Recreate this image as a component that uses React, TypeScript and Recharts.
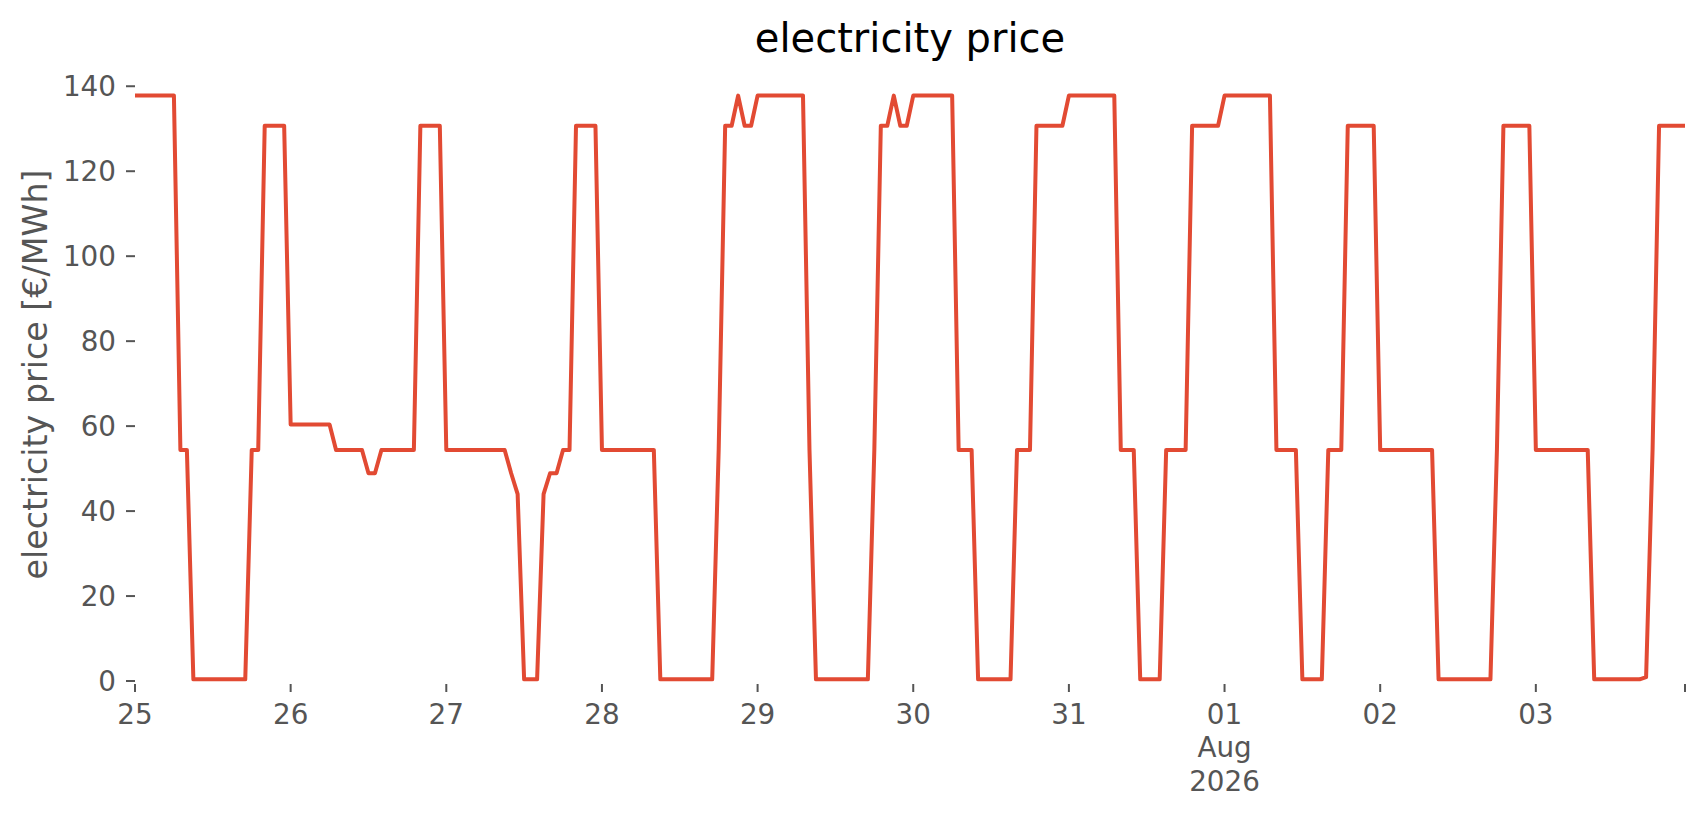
import React from "react";
import { LineChart, Line, XAxis, YAxis } from "recharts";

// hourly electricity price [€/MWh], one array per day (00:00 … 23:00)
const jul25 = [137.8, 137.8, 137.8, 137.8, 137.8, 137.8, 137.8, 54.4, 54.4, 0.4, 0.4, 0.4, 0.4, 0.4, 0.4, 0.4, 0.4, 0.4, 54.4, 54.4, 130.7, 130.7, 130.7, 130.7];
const jul26 = [60.4, 60.4, 60.4, 60.4, 60.4, 60.4, 60.4, 54.4, 54.4, 54.4, 54.4, 54.4, 48.9, 48.9, 54.4, 54.4, 54.4, 54.4, 54.4, 54.4, 130.7, 130.7, 130.7, 130.7];
const jul27 = [54.4, 54.4, 54.4, 54.4, 54.4, 54.4, 54.4, 54.4, 54.4, 54.4, 48.9, 44.0, 0.4, 0.4, 0.4, 44.0, 48.9, 48.9, 54.4, 54.4, 130.7, 130.7, 130.7, 130.7];
const jul28 = [54.4, 54.4, 54.4, 54.4, 54.4, 54.4, 54.4, 54.4, 54.4, 0.4, 0.4, 0.4, 0.4, 0.4, 0.4, 0.4, 0.4, 0.4, 54.4, 130.7, 130.7, 137.8, 130.7, 130.7];
const jul29 = [137.8, 137.8, 137.8, 137.8, 137.8, 137.8, 137.8, 137.8, 54.4, 0.4, 0.4, 0.4, 0.4, 0.4, 0.4, 0.4, 0.4, 0.4, 54.4, 130.7, 130.7, 137.8, 130.7, 130.7];
const jul30 = [137.8, 137.8, 137.8, 137.8, 137.8, 137.8, 137.8, 54.4, 54.4, 54.4, 0.4, 0.4, 0.4, 0.4, 0.4, 0.4, 54.4, 54.4, 54.4, 130.7, 130.7, 130.7, 130.7, 130.7];
const jul31 = [137.8, 137.8, 137.8, 137.8, 137.8, 137.8, 137.8, 137.8, 54.4, 54.4, 54.4, 0.4, 0.4, 0.4, 0.4, 54.4, 54.4, 54.4, 54.4, 130.7, 130.7, 130.7, 130.7, 130.7];
const aug01 = [137.8, 137.8, 137.8, 137.8, 137.8, 137.8, 137.8, 137.8, 54.4, 54.4, 54.4, 54.4, 0.4, 0.4, 0.4, 0.4, 54.4, 54.4, 54.4, 130.7, 130.7, 130.7, 130.7, 130.7];
const aug02 = [54.4, 54.4, 54.4, 54.4, 54.4, 54.4, 54.4, 54.4, 54.4, 0.4, 0.4, 0.4, 0.4, 0.4, 0.4, 0.4, 0.4, 0.4, 54.4, 130.7, 130.7, 130.7, 130.7, 130.7];
const aug03 = [54.4, 54.4, 54.4, 54.4, 54.4, 54.4, 54.4, 54.4, 54.4, 0.4, 0.4, 0.4, 0.4, 0.4, 0.4, 0.4, 0.4, 0.9, 54.4, 130.7, 130.7, 130.7, 130.7, 130.7];

const days = [jul25, jul26, jul27, jul28, jul29, jul30, jul31, aug01, aug02, aug03];

// x ticks: hours since 25 Jul 00:00
const xTickHours = [0, 24, 48, 72, 96, 120, 144, 168, 192, 216, 239];
const xTickLabels = ["25", "26", "27", "28", "29", "30", "31", "01\nAug\n2026", "02", "03", ""];
const yTicks = [0, 20, 40, 60, 80, 100, 120, 140];

const title = "electricity price";
const yLabel = "electricity price [€/MWh]";

const data = days.flat().map((v, i) => ({ h: i, v }));

const FONT = "DejaVu Sans";
const GREY = "#555555";

const XTick = (props: any) => {
  const { x, y, payload } = props;
  const idx = xTickHours.indexOf(payload.value);
  const label = idx >= 0 ? xTickLabels[idx] : "";
  if (!label) return null;
  const lines = label.split("\n");
  return (
    <text x={x} y={y + 30} textAnchor="middle" fill={GREY} fontSize={27.8} fontFamily={FONT}>
      {lines.map((l, i) => (
        <tspan key={i} x={x} dy={i === 0 ? 0 : 33.4}>
          {l}
        </tspan>
      ))}
    </text>
  );
};

export default function App() {
  return (
    <div style={{ position: "relative", width: 1706, height: 815, background: "#ffffff" }}>
      <style>{"body{margin:0;}"}</style>
      <LineChart width={1706} height={815} data={data} margin={{ top: 65, right: 21, bottom: 0, left: 0 }}>
        <XAxis
          dataKey="h"
          type="number"
          domain={[0, 239]}
          ticks={xTickHours}
          interval={0}
          height={131}
          tickSize={8}
          axisLine={false}
          tickLine={{ stroke: GREY, strokeWidth: 2 }}
          tick={(p: any) => <XTick {...p} />}
          allowDataOverflow
        />
        <YAxis
          type="number"
          domain={[-0.7, 145]}
          ticks={yTicks}
          interval={0}
          width={135}
          tickSize={9}
          tickMargin={10}
          axisLine={false}
          tickLine={{ stroke: GREY, strokeWidth: 2 }}
          tick={{ fill: GREY, fontSize: 27.8, fontFamily: FONT }}
          allowDataOverflow
        />
        <Line
          type="linear"
          dataKey="v"
          stroke="#E24A33"
          strokeWidth={4}
          strokeLinejoin="round"
          dot={false}
          activeDot={false}
          isAnimationActive={false}
        />
      </LineChart>
      <svg
        width={1706}
        height={815}
        style={{ position: "absolute", left: 0, top: 0, pointerEvents: "none" }}
      >
        <text x={910} y={52} textAnchor="middle" fontSize={40} fontFamily={FONT} fill="#000000">
          {title}
        </text>
        <text
          x={46.5}
          y={374.5}
          transform="rotate(-90 46.5 374.5)"
          textAnchor="middle"
          fontSize={33.3}
          fontFamily={FONT}
          fill={GREY}
        >
          {yLabel}
        </text>
      </svg>
    </div>
  );
}
